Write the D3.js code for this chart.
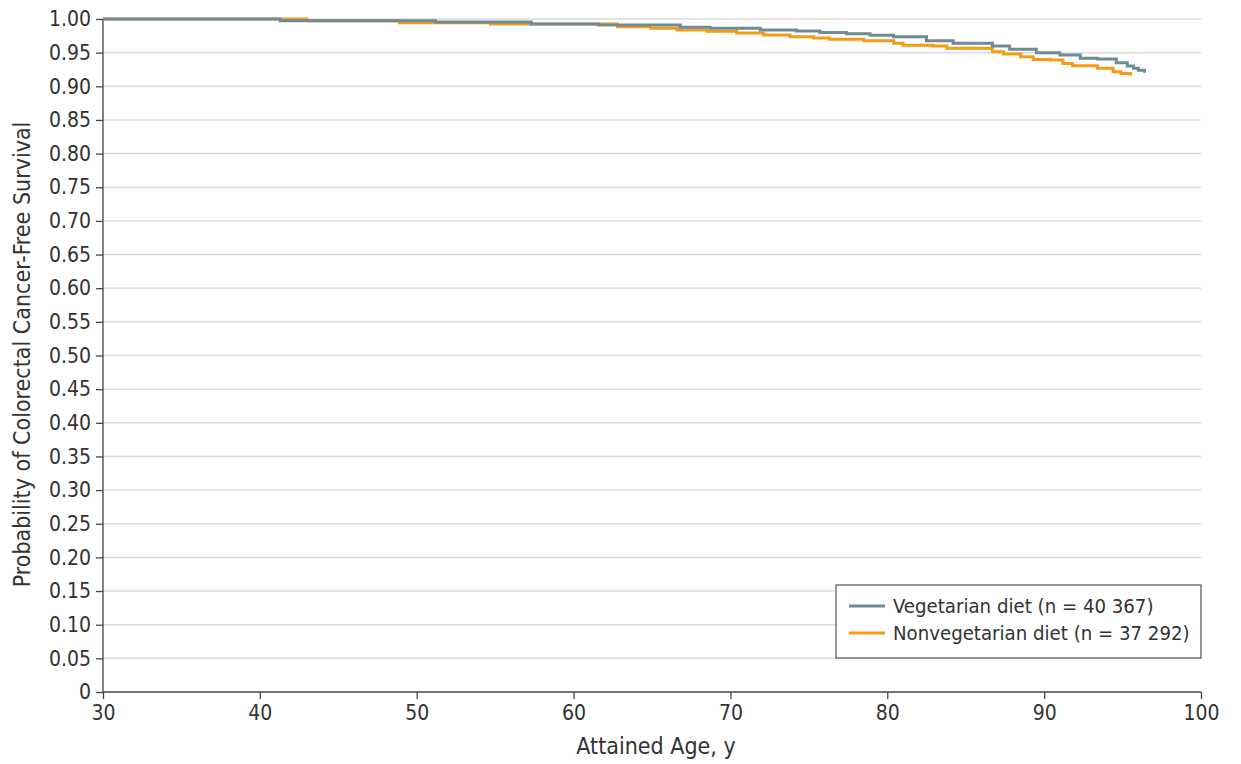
<!DOCTYPE html>
<html>
<head>
<meta charset="utf-8">
<script src="https://cdn.jsdelivr.net/npm/d3@7"></script>
<style>
  body { margin: 0; background: #fff; }
  svg text { font-family: "Liberation Sans Narrow", "DejaVu Sans Condensed", "Noto Sans", sans-serif; fill: #333; }
  .grid line { stroke: #dcdcdc; stroke-width: 1.5; }
  .axis path, .axis line { stroke: #444; stroke-width: 1.3; }
</style>
</head>
<body>
<script>
var width = 1241, height = 764;
var margin = {top: 19, right: 40, bottom: 72, left: 103};

// Kaplan-Meier curves (age, survival)
var vegAge  = [30, 41.3, 51.2, 57.3, 61.6, 66.8, 68.7, 71.9, 74.2, 75.7, 77.4, 78.9, 80.4, 82.5, 84.2, 86.7, 87.8, 89.5, 91.0, 92.3, 93.4, 94.6, 95.3, 95.7, 96.0, 96.4];
var vegSurv = [1.000, 0.9975, 0.9955, 0.9926, 0.991, 0.9877, 0.9862, 0.9837, 0.9822, 0.980, 0.978, 0.9758, 0.9737, 0.9678, 0.964, 0.960, 0.955, 0.950, 0.9465, 0.9416, 0.9405, 0.935, 0.930, 0.927, 0.924, 0.920];
var nonAge  = [30, 43.0, 48.9, 54.7, 62.8, 64.9, 66.6, 68.5, 70.4, 72.1, 73.8, 75.3, 76.3, 78.5, 80.4, 81.0, 82.9, 83.8, 86.7, 87.4, 88.5, 89.3, 90.4, 91.2, 91.8, 93.4, 94.4, 94.9, 95.5];
var nonSurv = [1.000, 0.9975, 0.9945, 0.9926, 0.9886, 0.9862, 0.9837, 0.9817, 0.9792, 0.9762, 0.9737, 0.9718, 0.970, 0.9678, 0.9639, 0.961, 0.960, 0.9565, 0.9514, 0.948, 0.944, 0.940, 0.939, 0.934, 0.9306, 0.9267, 0.9217, 0.919, 0.9158];

var xTicks = [30, 40, 50, 60, 70, 80, 90, 100];
var yTicks = d3.range(0, 21).map(function(i){ return i * 0.05; });

var seriesNames = ["Vegetarian diet (n = 40 367)", "Nonvegetarian diet (n = 37 292)"];
var seriesColors = ["#6f8b96", "#f59b16"];

var svg = d3.select("body").append("svg")
    .attr("width", width)
    .attr("height", height);

var x = d3.scaleLinear().domain([30, 100]).range([margin.left, width - margin.right]);
var y = d3.scaleLinear().domain([0, 1]).range([height - margin.bottom, margin.top]);

// horizontal gridlines
svg.append("g")
   .attr("class", "grid")
   .selectAll("line")
   .data(yTicks.filter(function(d){ return d > 0; }))
   .enter()
   .append("line")
   .attr("x1", x(30))
   .attr("x2", x(100))
   .attr("y1", function(d){ return y(d); })
   .attr("y2", function(d){ return y(d); });

var yAxis = svg.append("g")
    .attr("class", "axis")
    .attr("transform", "translate(" + margin.left + ",0)")
    .call(d3.axisLeft(y).tickValues(yTicks).tickSize(7).tickPadding(5)
          .tickFormat(function(d){ return d === 0 ? "0" : d3.format(".2f")(d); }))
    .call(function(g){ g.select(".domain").attr("d", "M0," + y(1) + "V" + y(0)); });
yAxis.selectAll("text").style("font-size", "21px");

var xAxis = svg.append("g")
    .attr("class", "axis")
    .attr("transform", "translate(0," + y(0) + ")")
    .call(d3.axisBottom(x).tickValues(xTicks).tickSize(7).tickPadding(6))
    .call(function(g){ g.select(".domain").attr("d", "M" + x(30) + ",0H" + x(100)); });
xAxis.selectAll("text").style("font-size", "21px");

// axis titles
svg.append("text")
   .attr("x", (x(30) + x(100)) / 2 + 4)
   .attr("y", 754)
   .attr("text-anchor", "middle")
   .style("font-size", "23px")
   .text("Attained Age, y");

svg.append("text")
   .attr("transform", "translate(30," + (y(0.5) - 1) + ") rotate(-90)")
   .attr("text-anchor", "middle")
   .style("font-size", "23px")
   .text("Probability of Colorectal Cancer-Free Survival");

// curves
var line = d3.line()
    .x(function(d){ return x(d[0]); })
    .y(function(d){ return y(d[1]); })
    .curve(d3.curveStepAfter);

var curves = [d3.zip(vegAge, vegSurv), d3.zip(nonAge, nonSurv)];

svg.selectAll(".km")
   .data([curves[1], curves[0]])
   .enter()
   .append("path")
   .attr("class", "km")
   .attr("d", line)
   .style("fill", "none")
   .style("stroke", function(d, i){ return i === 0 ? seriesColors[1] : seriesColors[0]; })
   .style("stroke-width", 3);

// legend
var legend = svg.append("g").attr("transform", "translate(836,585)");
legend.append("rect")
   .attr("width", 365)
   .attr("height", 73)
   .style("fill", "#fff")
   .style("stroke", "#555")
   .style("stroke-width", 1.2);

var items = legend.selectAll(".item")
   .data(seriesNames)
   .enter()
   .append("g")
   .attr("transform", function(d, i){ return "translate(0," + (21 + i * 27) + ")"; });

items.append("line")
   .attr("x1", 13).attr("x2", 49)
   .style("stroke", function(d, i){ return seriesColors[i]; })
   .style("stroke-width", 3);

items.append("text")
   .attr("x", 57)
   .attr("dy", "0.35em")
   .style("font-size", "20.2px")
   .text(function(d){ return d; });
</script>
</body>
</html>
